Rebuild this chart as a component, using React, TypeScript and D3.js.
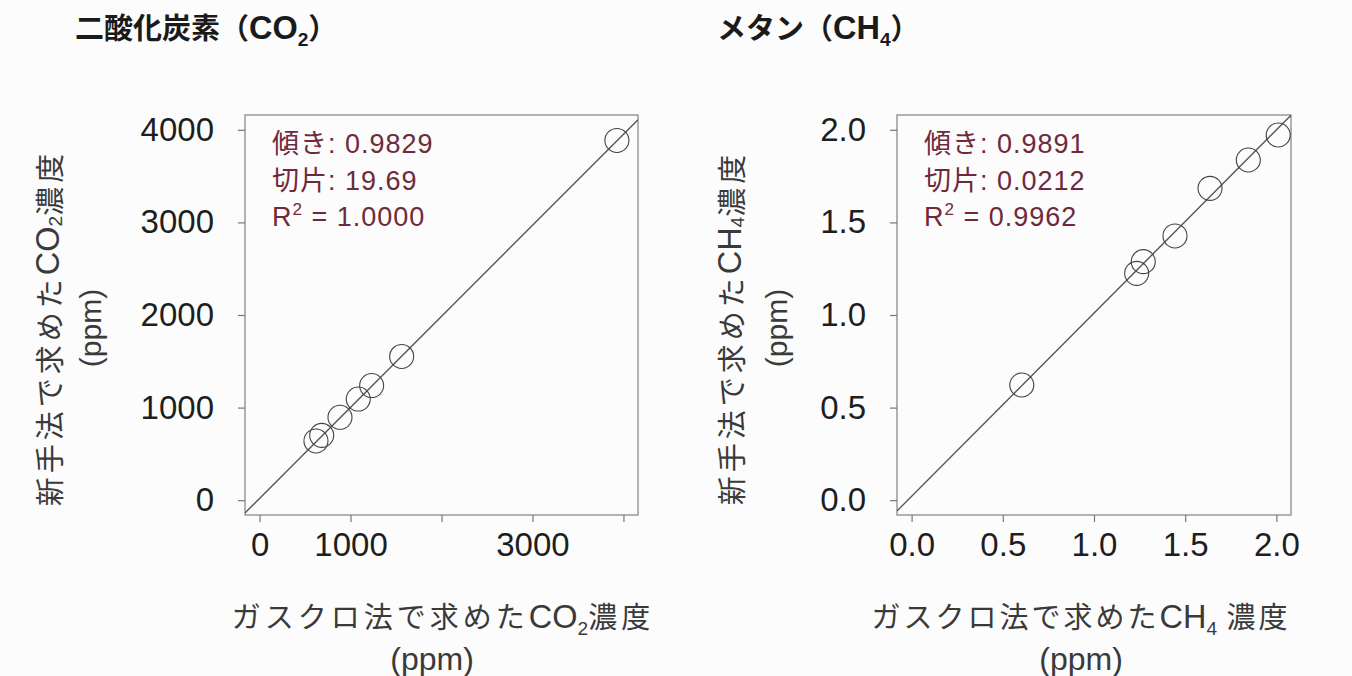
import React, { useEffect, useRef } from "react";
import * as d3 from "d3";

// CO2 panel: gas chromatograph (x) vs new method (y), ppm
const co2Gc = [3928, 1562, 1232, 1085, 884, 683, 620];
const co2New = [3885, 1552, 1238, 1092, 895, 700, 640];
const co2Ticks = [0, 1000, 2000, 3000, 4000];
const co2XTickLabels = ["0", "1000", "", "3000", ""];
const co2YTickLabels = ["0", "1000", "2000", "3000", "4000"];
const co2Fit = [0.9829, 19.69];
const co2Stats = ["0.9829", "19.69", "1.0000"];

// CH4 panel
const ch4Gc = [2.01, 1.846, 1.636, 1.444, 1.27, 1.234, 0.604];
const ch4New = [1.972, 1.837, 1.684, 1.427, 1.288, 1.225, 0.622];
const ch4Ticks = [0, 0.5, 1, 1.5, 2];
const ch4TickLabels = ["0.0", "0.5", "1.0", "1.5", "2.0"];
const ch4Fit = [0.9891, 0.0212];
const ch4Stats = ["0.9891", "0.0212", "0.9962"];

const LATIN = "'Liberation Sans', Arial, 'Noto Sans CJK JP', sans-serif";
const JP = "'Noto Sans CJK JP', 'Liberation Sans', sans-serif";
const TOP = 115;
const BOTTOM = 515;

type PanelProps = {
  id: string;
  x0: number;
  x1: number;
  lim: [number, number];
  gc: number[];
  nw: number[];
  ticks: number[];
  xLabels: string[];
  yLabels: string[];
  fit: number[];
  stats: string[];
};

function Panel(p: PanelProps) {
  const ref = useRef<SVGGElement>(null);
  const pad = (p.lim[1] - p.lim[0]) * 0.04;
  const x = d3.scaleLinear().domain([p.lim[0] - pad, p.lim[1] + pad]).range([p.x0, p.x1]);
  const y = d3.scaleLinear().domain([p.lim[0] - pad, p.lim[1] + pad]).range([BOTTOM, TOP]);

  useEffect(() => {
    const g = d3.select(ref.current);
    g.selectAll("*").remove();
    const xa = g.append("g").attr("transform", `translate(0,${BOTTOM})`)
      .call(d3.axisBottom(x).tickValues(p.ticks).tickSize(7).tickPadding(11)
        .tickFormat((_d, i) => p.xLabels[i]));
    const ya = g.append("g").attr("transform", `translate(${p.x0},0)`)
      .call(d3.axisLeft(y).tickValues(p.ticks).tickSize(7).tickPadding(24)
        .tickFormat((_d, i) => p.yLabels[i]));
    [xa, ya].forEach(a => {
      a.select(".domain").remove();
      a.selectAll("line").attr("stroke", "#777").attr("stroke-width", 1.2);
      a.selectAll("text").attr("font-family", LATIN).attr("font-size", 33).attr("fill", "#1e1e1e");
    });
  }, []);

  const dom = x.domain();
  const fitLine = d3.line<number>().x(d => x(d)).y(d => y(p.fit[0] * d + p.fit[1]));

  return (
    <g>
      <defs>
        <clipPath id={"clip-" + p.id}>
          <rect x={p.x0} y={TOP} width={p.x1 - p.x0} height={BOTTOM - TOP} />
        </clipPath>
      </defs>
      <rect x={p.x0} y={TOP} width={p.x1 - p.x0} height={BOTTOM - TOP}
        fill="none" stroke="#8a8a8a" strokeWidth={1.3} />
      <path d={fitLine(dom) || ""} stroke="#555" strokeWidth={1.4} fill="none"
        clipPath={`url(#clip-${p.id})`} />
      {p.gc.map((v, i) => (
        <circle key={i} cx={x(v)} cy={y(p.nw[i])} r={12} fill="none" stroke="#444" strokeWidth={1.1} />
      ))}
      <g ref={ref} />
      <g fontFamily={LATIN} fontSize={27} fill="#6e2a3b" letterSpacing={1}>
        <text x={p.x0 + 27} y={153}>
          <tspan fontFamily={JP}>傾き</tspan>: {p.stats[0]}
        </text>
        <text x={p.x0 + 27} y={189.5}>
          <tspan fontFamily={JP}>切片</tspan>: {p.stats[1]}
        </text>
        <text x={p.x0 + 27} y={226}>
          R<tspan fontSize={17} dy={-11}>2</tspan><tspan dy={11}> = {p.stats[2]}</tspan>
        </text>
      </g>
    </g>
  );
}

// Japanese text + chemical formula (with subscript) + Japanese text
function Mixed({ pre, base, sub, post, gap }: { pre: string; base: string; sub: string; post: string; gap: number }) {
  return (
    <>
      <tspan fontFamily={JP} letterSpacing={gap}>{pre}</tspan>
      <tspan fontFamily={LATIN} letterSpacing={0} fontSize="1.12em">{base}</tspan>
      <tspan fontFamily={LATIN} letterSpacing={0} fontSize="0.66em" dy={7}>{sub}</tspan>
      <tspan fontFamily={JP} letterSpacing={gap} dy={-7}>{post}</tspan>
    </>
  );
}

export default function App() {
  return (
    <svg width={1352} height={676} style={{ position: "absolute", left: 0, top: 0 }}>
      <rect width={1352} height={676} fill="#fcfcfc" />

      {/* titles */}
      <text x={75} y={39} fontWeight="bold" fontSize={29} fill="#1a1a1a">
        <Mixed pre="二酸化炭素（" base="CO" sub="2" post="）" gap={0} />
      </text>
      <text x={717} y={39} fontWeight="bold" fontSize={29} fill="#1a1a1a">
        <Mixed pre="メタン（" base="CH" sub="4" post="）" gap={0} />
      </text>

      <Panel id="co2" x0={245} x1={638} lim={[0, 4000]} gc={co2Gc} nw={co2New}
        ticks={co2Ticks} xLabels={co2XTickLabels} yLabels={co2YTickLabels}
        fit={co2Fit} stats={co2Stats} />
      <Panel id="ch4" x0={897} x1={1291} lim={[0, 2]} gc={ch4Gc} nw={ch4New}
        ticks={ch4Ticks} xLabels={ch4TickLabels} yLabels={ch4TickLabels}
        fit={ch4Fit} stats={ch4Stats} />

      {/* axis titles */}
      <g fontSize={29} fill="#3a3a3a">
        <text transform="translate(48,328) rotate(-90)" textAnchor="middle" dominantBaseline="central">
          <Mixed pre="新手法で求めた" base="CO" sub="2" post="濃度" gap={4} />
        </text>
        <text transform="translate(90,328) rotate(-90)" textAnchor="middle" dominantBaseline="central"
          fontFamily={LATIN} fontSize={30}>(ppm)</text>
        <text x={443} y={628} textAnchor="middle">
          <Mixed pre="ガスクロ法で求めた" base="CO" sub="2" post="濃度" gap={4} />
        </text>
        <text x={432} y={670} textAnchor="middle" fontFamily={LATIN} fontSize={32}>(ppm)</text>

        <text transform="translate(730,328) rotate(-90)" textAnchor="middle" dominantBaseline="central">
          <Mixed pre="新手法で求めた" base="CH" sub="4" post="濃度" gap={4} />
        </text>
        <text transform="translate(776,328) rotate(-90)" textAnchor="middle" dominantBaseline="central"
          fontFamily={LATIN} fontSize={30}>(ppm)</text>
        <text x={1081} y={628} textAnchor="middle">
          <Mixed pre="ガスクロ法で求めた" base="CH" sub="4" post=" 濃度" gap={3} />
        </text>
        <text x={1081} y={670} textAnchor="middle" fontFamily={LATIN} fontSize={32}>(ppm)</text>
      </g>
    </svg>
  );
}
